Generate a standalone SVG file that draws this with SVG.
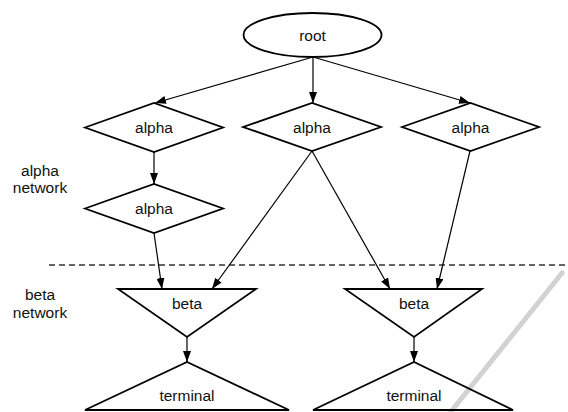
<svg xmlns="http://www.w3.org/2000/svg" width="568" height="412" viewBox="0 0 568 412">
  <style>
    .shape { fill: none; stroke: #000; stroke-width: 1.8; stroke-linejoin: miter; }
    .edge { fill: none; stroke: #000; stroke-width: 1.2; marker-end: url(#arrow); }
    text { font-family: "Liberation Sans", Arial, sans-serif; font-size: 15.5px; fill: #111; text-anchor: middle; }
  </style>
  <defs>
    <marker id="arrow" viewBox="0 0 11 8" refX="11" refY="4" markerWidth="11" markerHeight="8" markerUnits="userSpaceOnUse" orient="auto">
      <path d="M0,0 L11,4 L0,8 Z" fill="#000"/>
    </marker>
  </defs>

  <rect width="568" height="412" fill="#fff"/>

  <!-- layer labels and separator -->
  <g id="labels">
    <text x="40" y="176">alpha</text>
    <text x="40" y="193">network</text>
    <text x="40" y="300">beta</text>
    <text x="40" y="318">network</text>
  </g>
  <line id="separator" x1="49" y1="265" x2="568" y2="265" stroke="#333" stroke-width="1.3" stroke-dasharray="6 4"/>

  <!-- light pencil stroke -->
  <line x1="562" y1="273" x2="449" y2="414" stroke="#d2d2d2" stroke-width="5" stroke-linecap="round"/>

  <!-- connectors -->
  <g id="edges">
    <line class="edge" x1="313" y1="57" x2="155" y2="103"/>
    <line class="edge" x1="313" y1="57" x2="313" y2="103"/>
    <line class="edge" x1="313" y1="57" x2="470" y2="103"/>
    <line class="edge" x1="154" y1="152" x2="154" y2="184"/>
    <line class="edge" x1="154" y1="233" x2="162" y2="289"/>
    <line class="edge" x1="312" y1="151" x2="212" y2="289"/>
    <line class="edge" x1="312" y1="151" x2="390" y2="289"/>
    <line class="edge" x1="470" y1="151" x2="437" y2="289"/>
    <line class="edge" x1="187" y1="337" x2="187" y2="362"/>
    <line class="edge" x1="414" y1="337" x2="414" y2="362"/>
  </g>

  <g id="root">
    <ellipse class="shape" cx="312.5" cy="35" rx="69" ry="22"/>
    <text x="312.5" y="40.5">root</text>
  </g>

  <g id="alpha-1">
    <polygon class="shape" points="85,127.5 154,103 223,127.5 154,152"/>
    <text x="154" y="133">alpha</text>
  </g>
  <g id="alpha-2">
    <polygon class="shape" points="243,127 312,103 381,127 312,151"/>
    <text x="312" y="132.5">alpha</text>
  </g>
  <g id="alpha-3">
    <polygon class="shape" points="402,127 470.5,103 539,127 470.5,151"/>
    <text x="470.5" y="132.5">alpha</text>
  </g>
  <g id="alpha-4">
    <polygon class="shape" points="85,208.5 154,184 223,208.5 154,233"/>
    <text x="154" y="214">alpha</text>
  </g>

  <g id="beta-1">
    <polygon class="shape" points="118,289 256,289 187,337"/>
    <text x="187" y="309">beta</text>
  </g>
  <g id="beta-2">
    <polygon class="shape" points="345,289 482,289 414,337"/>
    <text x="414" y="309">beta</text>
  </g>

  <g id="terminal-1">
    <polygon class="shape" points="85,410 187,362 289,410"/>
    <text x="187" y="401">terminal</text>
  </g>
  <g id="terminal-2">
    <polygon class="shape" points="313,410 414,362 513,410"/>
    <text x="414" y="401">terminal</text>
  </g>
</svg>
